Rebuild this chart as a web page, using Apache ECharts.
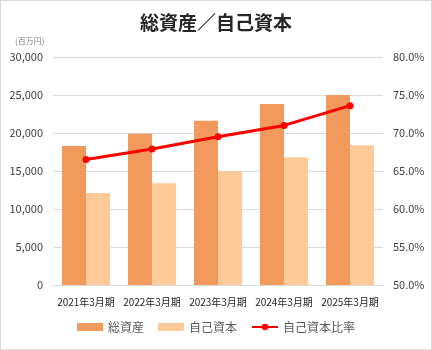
<!DOCTYPE html>
<html>
<head>
<meta charset="utf-8">
<script src="https://cdn.jsdelivr.net/npm/echarts@6/dist/echarts.min.js"></script>
<style>
  html, body { margin: 0; padding: 0; background: #fff; }
  #chart { width: 430px; height: 348px; border: 1px solid #d9d9d9; }
</style>
</head>
<body>
<div id="chart"></div>
<script>
// 決算期ごとの総資産・自己資本（百万円）と自己資本比率（%）
const categories = ['2021年3月期', '2022年3月期', '2023年3月期', '2024年3月期', '2025年3月期'];
const totalAssets = [18300, 19900, 21600, 23800, 25000];
const equity = [12100, 13400, 15000, 16800, 18400];
const equityRatio = [66.5, 67.9, 69.5, 71.0, 73.6];

const font = '"Noto Sans CJK JP", "Noto Sans", sans-serif';
const chart = echarts.init(document.getElementById('chart'));

chart.setOption({
  textStyle: { fontFamily: font },
  title: {
    text: '総資産／自己資本',
    left: 'center',
    top: 7,
    textStyle: { fontSize: 19, fontWeight: 'bold', color: '#262626', fontFamily: font }
  },
  graphic: [{
    type: 'text',
    left: 14,
    top: 36,
    style: { text: '(百万円)', fontSize: 8, fill: '#7f7f7f', fontFamily: font }
  }],
  legend: {
    bottom: 11,
    left: 'center',
    itemWidth: 26,
    itemHeight: 8,
    itemGap: 14,
    textStyle: { fontSize: 12, color: '#595959', fontFamily: font },
    data: [
      { name: '総資産', icon: 'rect' },
      { name: '自己資本', icon: 'rect' },
      { name: '自己資本比率' }
    ]
  },
  grid: { left: 52, right: 48, top: 56, bottom: 64 },
  xAxis: {
    type: 'category',
    data: categories,
    axisTick: { show: false },
    axisLine: { lineStyle: { color: '#d9d9d9' } },
    axisLabel: { fontSize: 10, color: '#262626', margin: 12, interval: 0, fontFamily: font }
  },
  yAxis: [
    {
      type: 'value',
      min: 0,
      max: 30000,
      interval: 5000,
      axisLabel: {
        fontSize: 11,
        color: '#404040',
        margin: 10,
        fontFamily: font,
        formatter: v => v.toLocaleString('en-US')
      },
      splitLine: { lineStyle: { color: '#d9d9d9' } }
    },
    {
      type: 'value',
      min: 50,
      max: 80,
      interval: 5,
      axisLabel: {
        fontSize: 11,
        color: '#404040',
        margin: 10,
        fontFamily: font,
        formatter: v => v.toFixed(1) + '%'
      },
      splitLine: { show: false }
    }
  ],
  series: [
    {
      name: '総資産',
      type: 'bar',
      data: totalAssets,
      barWidth: 24,
      barGap: '0%',
      itemStyle: { color: '#f19a5c' }
    },
    {
      name: '自己資本',
      type: 'bar',
      data: equity,
      barWidth: 24,
      barGap: '0%',
      itemStyle: { color: '#fdca98' }
    },
    {
      name: '自己資本比率',
      type: 'line',
      yAxisIndex: 1,
      data: equityRatio,
      symbol: 'circle',
      symbolSize: 7,
      lineStyle: { color: '#ff0000', width: 3 },
      itemStyle: { color: '#ff0000' }
    }
  ]
});
</script>
</body>
</html>
